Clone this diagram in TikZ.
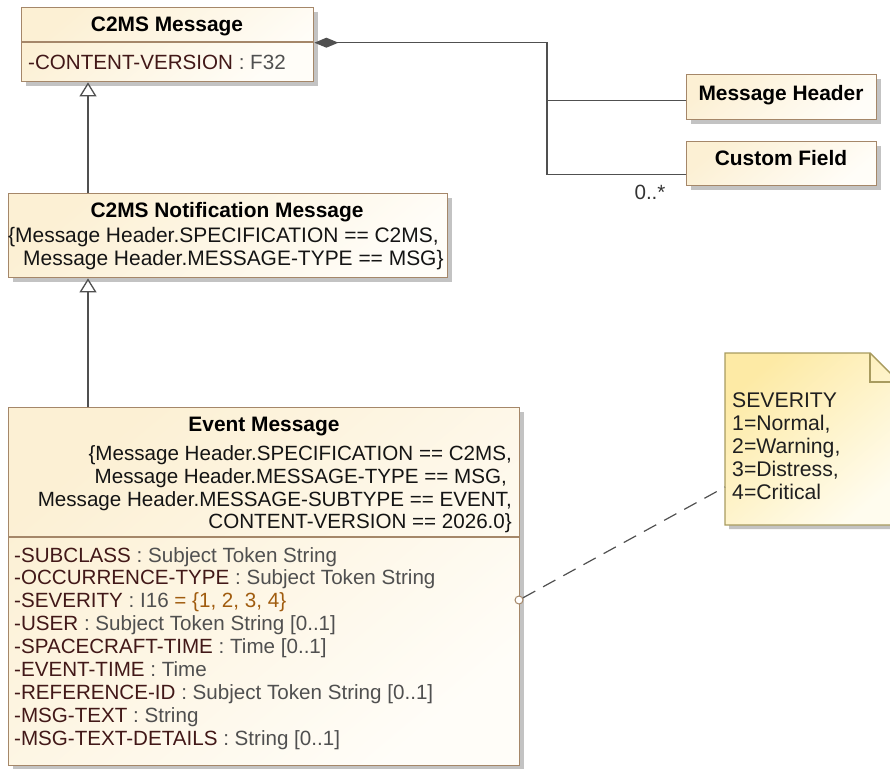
\documentclass[tikz,border=0pt]{standalone}
\usepackage{fontspec}
\setmainfont{Liberation Sans}
\usetikzlibrary{arrows.meta,shadows,calc}
\definecolor{clsborder}{RGB}{165,135,105}
\definecolor{clsfill}{RGB}{252,240,212}
\definecolor{clsfillb}{RGB}{255,253,248}
\definecolor{shadowc}{RGB}{195,195,195}
\definecolor{attrname}{RGB}{66,24,24}
\definecolor{attrtype}{RGB}{80,80,80}
\definecolor{attrval}{RGB}{160,92,15}
\definecolor{notefill}{RGB}{253,234,165}
\definecolor{notefillb}{RGB}{255,252,238}
\definecolor{noteborder}{RGB}{168,155,95}
\definecolor{linec}{RGB}{80,80,80}
\newcommand{\an}[1]{\textcolor{attrname}{#1}}
\newcommand{\ty}[1]{\textcolor{attrtype}{#1}}
\newcommand{\va}[1]{\textcolor{attrval}{#1}}
\begin{document}
\begin{tikzpicture}[x=1pt,y=-1pt,
  font=\fontsize{20.6}{23}\selectfont,
  cls/.style={draw=clsborder, line width=1.4pt, top color=clsfill, bottom color=clsfillb, shading angle=40,
    rectangle, inner sep=0pt, anchor=north west,
    drop shadow={shadow xshift=4pt, shadow yshift=-4pt, fill=shadowc, opacity=1}},
  txt/.style={inner sep=0pt, text height=14pt, text depth=0pt, text=black!92},
  title/.style={txt, font=\fontsize{20.9}{23}\selectfont\bfseries, text=black},
  conn/.style={draw=linec, line width=1.3pt},
  comp/.style={conn, {Diamond[length=24pt,width=10pt]}-},
  gen/.style={conn, -{Triangle[length=14pt,width=17pt,fill=white]}},
  sep/.style={draw=clsborder, line width=1.2pt}
]
\useasboundingbox (0,0) rectangle (890,768);

% ---- C2MS Message
\node[cls, minimum width=292pt, minimum height=74pt] (cm) at (21,7) {};
\draw[sep] (21,42) -- (313,42);
\node[title] (cmT) at (167,25) {C2MS Message};
\node[txt, anchor=west] (cmA) at (28,62) {\an{-CONTENT-VERSION} \ty{: F32}};

% ---- Message Header / Custom Field
\node[cls, minimum width=190pt, minimum height=45pt] (mh) at (686,74) {};
\node[title] (mhT) at (781,93) {Message Header};
\node[cls, minimum width=190pt, minimum height=44pt] (cf) at (686,141) {};
\node[title] (cfT) at (781,158) {Custom Field};

% ---- C2MS Notification Message
\node[cls, minimum width=439pt, minimum height=84pt] (nm) at (8,193) {};
\node[title] (nmT) at (227,210) {C2MS Notification Message};
\node[txt, anchor=west, font=\fontsize{20.95}{23}\selectfont] (nm1) at (8,235) {\{Message Header.SPECIFICATION == C2MS,};
\node[txt, anchor=west, font=\fontsize{20.95}{23}\selectfont] (nm2) at (23,258) {Message Header.MESSAGE-TYPE == MSG\}};

% ---- Event Message
\node[cls, minimum width=511pt, minimum height=358pt] (ev) at (8,407) {};
\draw[sep] (8,537) -- (519,537);
\node[title] (evT) at (264,424) {Event Message};
\node[txt, anchor=east] (evc1) at (512,453) {\{Message Header.SPECIFICATION == C2MS,};
\node[txt, anchor=east] (evc2) at (507,476) {Message Header.MESSAGE-TYPE == MSG,};
\node[txt, anchor=east] (evc3) at (512,499) {Message Header.MESSAGE-SUBTYPE == EVENT,};
\node[txt, anchor=east] (evc4) at (512,521) {CONTENT-VERSION == 2026.0\}};
\foreach \i/\t in {
  0/{\an{-SUBCLASS} \ty{: Subject Token String}},
  1/{\an{-OCCURRENCE-TYPE} \ty{: Subject Token String}},
  2/{\an{-SEVERITY} \ty{: I16} \va{= \{1, 2, 3, 4\}}},
  3/{\an{-USER} \ty{: Subject Token String [0..1]}},
  4/{\an{-SPACECRAFT-TIME} \ty{: Time [0..1]}},
  5/{\an{-EVENT-TIME} \ty{: Time}},
  6/{\an{-REFERENCE-ID} \ty{: Subject Token String [0..1]}},
  7/{\an{-MSG-TEXT} \ty{: String}},
  8/{\an{-MSG-TEXT-DETAILS} \ty{: String [0..1]}}}
  \node[txt, anchor=west] (eva\i) at (14,555+22.9*\i) {\t};

% ---- Note
\fill[shadowc] (729,357) -- (874,357) -- (903,386) -- (903,529) -- (729,529) -- cycle;
\path[draw=noteborder, line width=1.4pt, top color=notefill, bottom color=notefillb, shading angle=40]
  (725,353) -- (870,353) -- (899,382) -- (899,525) -- (725,525) -- cycle;
\draw[draw=noteborder, line width=1.4pt] (870,353) -- (870,382) -- (899,382);
\foreach \i/\t in {0/SEVERITY,1/{1=Normal,},2/{2=Warning,},3/{3=Distress,},4/{4=Critical}}
  \node[txt, anchor=west, text=black!88, font=\fontsize{21.2}{23}\selectfont] (nt\i) at (732,400+23*\i) {\t};

% ---- connectors
\coordinate (jx) at (547,0);
\coordinate (gx) at (88,0);
\coordinate (cmp) at ([yshift=2pt]cm.east);
\coordinate (mhp) at ([yshift=-3.5pt]mh.west);
\coordinate (cfp) at ([yshift=-11pt]cf.west);
\draw[comp] (cmp) -- (cmp -| jx) -- (cfp -| jx) -- (cfp);
\draw[conn] (mhp -| jx) -- (mhp);
\node[txt, text=black!80] (mult) at (650,192) {0..*};

\draw[gen] (nm.north -| gx) -- (cm.south -| gx);
\draw[gen] (ev.north -| gx) -- (nm.south -| gx);

\node[circle, draw=clsborder, fill=white, line width=1pt, minimum size=8pt, inner sep=0pt] (pin) at (519,600) {};
\coordinate (noteL) at (725,487);
\draw[conn, line width=1.2pt, dash pattern=on 14pt off 9pt] (pin) -- (noteL);
\end{tikzpicture}
\end{document}
